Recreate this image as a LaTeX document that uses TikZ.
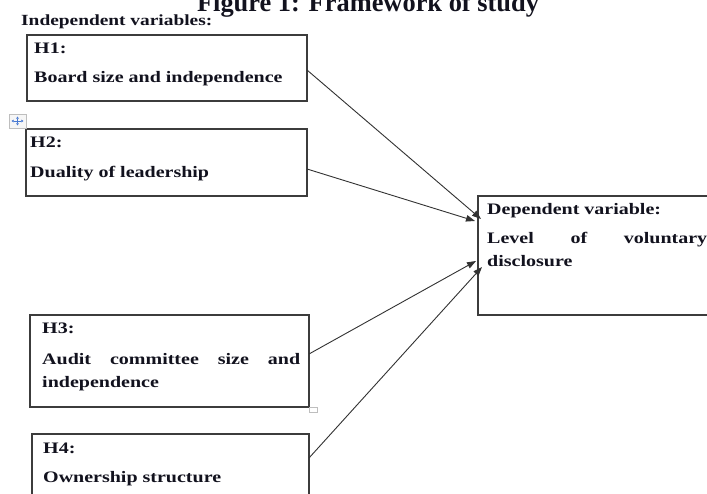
\documentclass[tikz,border=0pt]{standalone}
\usepackage{fontspec}
\newfontfamily\figfont{Liberation Serif}[FakeStretch=1.25]
\newfontfamily\capfont{Liberation Serif}
\usetikzlibrary{arrows.meta,calc}
\definecolor{ink}{RGB}{18,18,30}
\definecolor{boxgray}{RGB}{60,60,60}
\definecolor{linkgray}{RGB}{50,50,50}
\definecolor{handlegray}{RGB}{190,190,190}
\definecolor{handleblue}{RGB}{70,120,210}
\begin{document}
\begin{tikzpicture}[x=1pt,y=-1pt,
  box/.style={draw=boxgray, line width=1.3pt, rectangle, anchor=north west,
    inner sep=0pt, outer sep=0pt},
  lbl/.style={anchor=base west, inner sep=0pt, text=ink,
    font=\figfont\bfseries\fontsize{16}{19}\selectfont},
  link/.style={draw=linkgray, line width=0.9pt,
    -{Triangle[length=9pt,width=6.5pt]}}]
\useasboundingbox (0,0) rectangle (707,494);
\clip (0,0) rectangle (707,494);
\fill[white] (0,0) rectangle (707,494);

% caption and heading
\node[anchor=base, inner sep=0pt, text=ink,
  font=\capfont\bfseries\fontsize{26.4}{30}\selectfont] (title) at (368,12)
  {Figure 1: Framework of study};
\node[lbl, font=\figfont\bfseries\fontsize{15.5}{19}\selectfont] (indep) at (21,26)
  {Independent variables:};

% hypothesis boxes
\node[box, minimum width=280pt, minimum height=66pt] (h1) at (27,35) {};
\node[box, minimum width=281pt, minimum height=67pt] (h2) at (26,129) {};
\node[box, minimum width=279pt, minimum height=92pt] (h3) at (30,315) {};
\node[box, minimum width=277pt, minimum height=100pt] (h4) at (32,434) {};
\node[box, minimum width=260pt, minimum height=119pt] (dep) at (478,196) {};

% box texts
\node[lbl] (h1a) at (34,54) {H1:};
\node[lbl] (h1b) at (34,83) {Board size and independence};
\node[lbl] (h2a) at (30,148) {H2:};
\node[lbl] (h2b) at (30,178) {Duality of leadership};
\node[lbl] (h3a) at (42,334) {H3:};
\node[lbl] (h3b) at (42,364) {\makebox[258pt][s]{Audit committee size and}};
\node[lbl] (h3c) at (42,387) {independence};
\node[lbl] (h4a) at (43,453) {H4:};
\node[lbl] (h4b) at (43,482) {Ownership structure};
\node[lbl] (depa) at (487,215) {Dependent variable:};
\node[lbl] (depb) at (487,244) {\makebox[220pt][s]{Level of voluntary}};
\node[lbl] (depc) at (487,267) {disclosure};

% arrow end points on the dependent box
\coordinate (t1) at (481,219);
\coordinate (t2) at (475,221);
\coordinate (t3) at (476,261);
\coordinate (t4) at (482,267);

\draw[link] ($(h1.north east)+(0,35)$) -- (t1);
\draw[link] ($(h2.north east)+(0,40)$) -- (t2);
\draw[link] ($(h3.north east)+(0,39)$) -- (t3);
\draw[link] ($(h4.north east)+(0,24)$) -- (t4);

% editor handles
\draw[handlegray, fill=white, line width=0.6pt] (309,407) rectangle (317,412);
\draw[handlegray, fill={rgb,255:red,246;green,246;blue,246}, line width=0.6pt]
  (9,114) rectangle (26,128);
\draw[handleblue, line width=0.8pt, {Triangle[length=2.2pt,width=2.6pt]}-{Triangle[length=2.2pt,width=2.6pt]}]
  (11.5,121) -- (23.5,121);
\draw[handleblue, line width=0.8pt, {Triangle[length=2.2pt,width=2.6pt]}-{Triangle[length=2.2pt,width=2.6pt]}]
  (17.5,116.5) -- (17.5,125.5);
\end{tikzpicture}
\end{document}
